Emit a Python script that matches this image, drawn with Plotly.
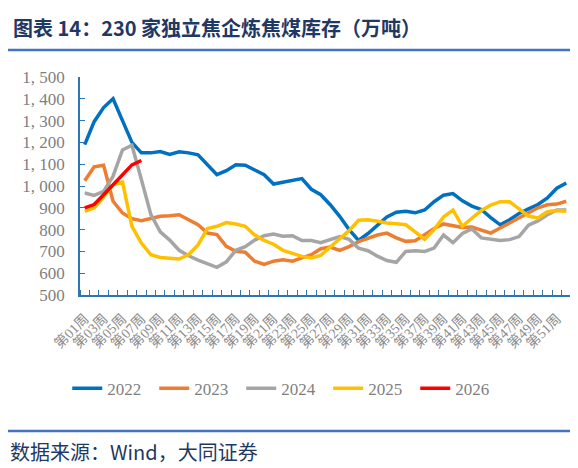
import plotly.graph_objects as go

# weekly stock of coking coal at 230 independent coking plants (10k t)
weeks = list(range(1, 53))
week_labels = [f'第{w:02d}周' for w in weeks]

s2022 = [1190, 1295, 1360, 1400, 1300, 1200, 1152, 1152, 1158, 1145,
         1157, 1152, 1143, 1100, 1052, 1070, 1097, 1095, 1075, 1052,
         1009, 1018, 1029, 1034, 985, 960, 914, 861, 800, 750,
         782, 820, 858, 880, 884, 877, 890, 928, 958, 965,
         932, 908, 892, 855, 822, 845, 874, 895, 915, 945,
         990, 1014]
s2023 = [1024, 1088, 1095, 930, 876, 850, 841, 853, 861, 864,
         868, 845, 822, 784, 777, 723, 700, 696, 655, 640,
         655, 662, 655, 670, 685, 712, 720, 705, 722, 745,
         760, 775, 784, 762, 746, 749, 777, 805, 826, 820,
         810, 812, 800, 784, 807, 830, 853, 876, 900, 914,
         917, 930]
s2024 = [968, 957, 975, 1045, 1165, 1187, 1030, 870, 790, 752,
         705, 680, 660, 645, 627, 652, 705, 722, 752, 772,
         780, 770, 772, 750, 750, 740, 752, 768, 755, 715,
         703, 678, 658, 650, 700, 703, 700, 715, 775, 740,
         782, 803, 762, 757, 750, 754, 768, 820, 840, 868,
         890, 890]
s2025 = [884, 899, 950, 1005, 1018, 815, 738, 685, 672, 668,
         665, 685, 730, 805, 815, 832, 826, 815, 775, 750,
         733, 705, 690, 677, 670, 682, 720, 758, 795, 843,
         845, 838, 830, 827, 822, 790, 755, 800, 858, 890,
         815, 852, 888, 912, 928, 928, 893, 862, 853, 882,
         887, 884]
s2026 = [900, 915, 960, 1005, 1050, 1097, 1117]

years = ['2022', '2023', '2024', '2025', '2026']
series = [s2022, s2023, s2024, s2025, s2026]
colors = ['#0070C0', '#ED7D31', '#A5A5A5', '#FFC000', '#FF0000']

yticks = list(range(500, 1501, 100))
ytick_text = [f'{v:,}'.replace(',', ', ') for v in yticks]

AXIS_BLUE = '#2E75B6'
NAVY = '#1F3864'
SERIF = 'Liberation Serif, Noto Sans CJK SC'

fig = go.Figure()
for yr, vals, c in zip(years, series, colors):
    fig.add_trace(go.Scatter(x=weeks[:len(vals)], y=vals, mode='lines',
                             name=yr, line=dict(color=c, width=3.5)))

fig.update_layout(
    width=578, height=468,
    margin=dict(l=72, r=15, t=69, b=181),
    paper_bgcolor='white', plot_bgcolor='white',
    font=dict(family=SERIF, size=16, color='#7F7F7F'),
    showlegend=True,
    legend=dict(orientation='h', x=-0.026, xanchor='left',
                y=-0.43, yanchor='middle',
                font=dict(size=17, color='#7F7F7F'),
                entrywidth=42, entrywidthmode='pixels',
                tracegroupgap=0, itemwidth=30,
                bgcolor='rgba(0,0,0,0)'),
    xaxis=dict(range=[0.5, 52.5], showgrid=False, zeroline=False,
               showline=True, linecolor=AXIS_BLUE, linewidth=1.5,
               tickmode='array', tickvals=weeks[::2], ticktext=week_labels[::2],
               ticks='', tickangle=-45, ticklabelstandoff=8,
               tickfont=dict(family=SERIF, size=14, color='#8C8C8C'),
               minor=dict(tickmode='linear', tick0=0.5, dtick=1, ticks='inside',
                          ticklen=5, tickcolor=AXIS_BLUE, tickwidth=1)),
    yaxis=dict(range=[500, 1500], showgrid=False, zeroline=False,
               showline=True, linecolor=AXIS_BLUE, linewidth=1.5,
               tickmode='array', tickvals=yticks, ticktext=ytick_text,
               ticks='inside', ticklen=5, tickcolor=AXIS_BLUE,
               ticklabelstandoff=10,
               tickfont=dict(family=SERIF, size=17, color='#7F7F7F')),
)

fig.add_annotation(text='<b>图表 14：230 家独立焦企炼焦煤库存（万吨）</b>',
                   xref='paper', yref='paper', x=-0.141, y=1.225,
                   xanchor='left', yanchor='middle', showarrow=False,
                   font=dict(family='Noto Sans CJK SC', size=20, color=NAVY))
fig.add_annotation(text='数据来源：Wind，大同证券',
                   xref='paper', yref='paper', x=-0.147, y=-0.716,
                   xanchor='left', yanchor='middle', showarrow=False,
                   font=dict(family='Noto Sans CJK SC', size=20, color=NAVY))
for yline in (1.124, -0.624):
    fig.add_shape(type='line', xref='paper', yref='paper',
                  x0=-0.147, x1=1.031, y0=yline, y1=yline,
                  line=dict(color='#4472C4', width=2.5))

fig.write_html('out.html')
